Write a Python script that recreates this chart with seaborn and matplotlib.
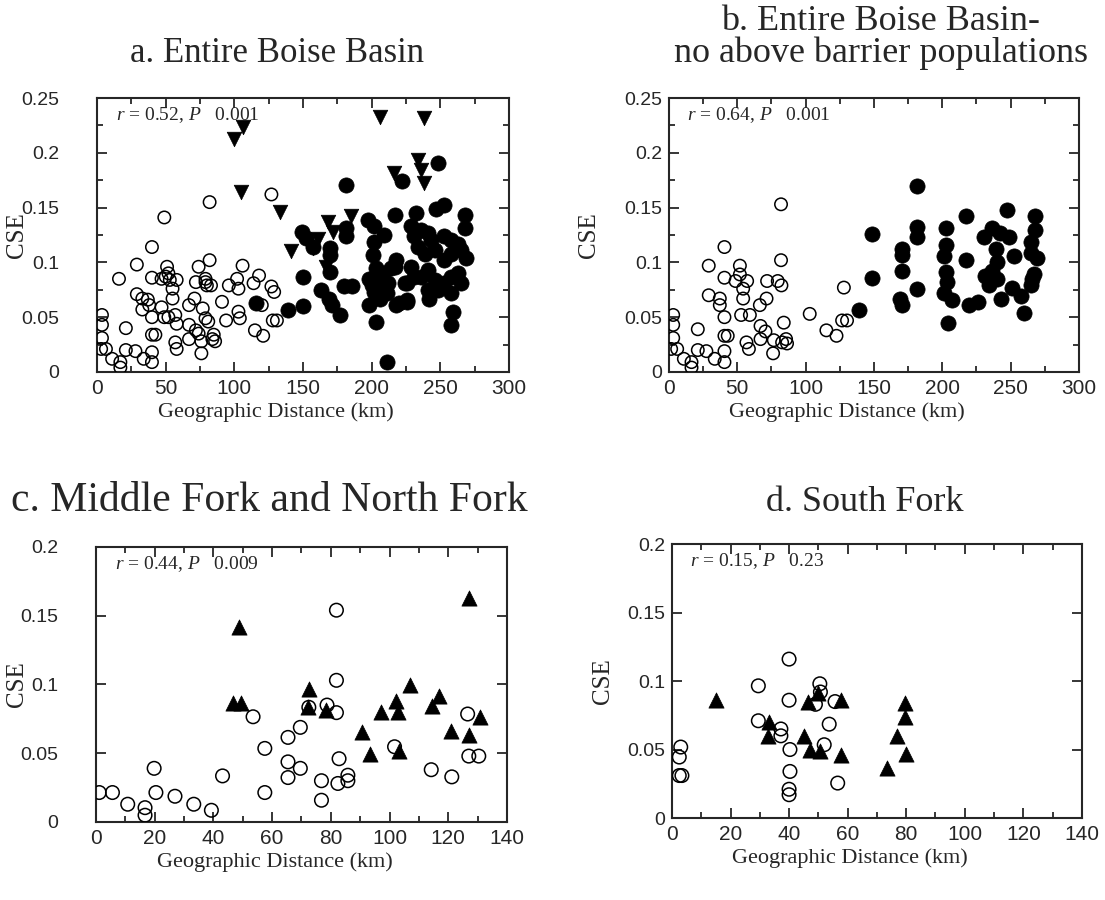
import matplotlib
matplotlib.use("Agg")
import matplotlib.pyplot as plt
import seaborn as sns
import pandas as pd
from matplotlib.ticker import MultipleLocator, FuncFormatter

# a. Entire Boise Basin
a_open_x = [
    3, 3.6, 3.6, 3.6, 6.5, 11, 17, 17, 16, 21,
    21, 28, 29, 29, 33, 33, 34, 37, 38, 40,
    40, 40, 40, 42.5, 40, 40, 49, 47, 50, 51,
    52, 53, 58, 55, 55, 47, 49, 52, 57, 58,
    57, 58, 67, 67, 67, 71, 72, 74, 72, 74,
    76, 76, 79, 80, 77, 79, 81, 79, 82, 82,
    83, 84, 85, 86, 91, 94, 96, 102, 103, 103,
    104, 106, 114, 118, 115, 121, 127, 129, 127, 128,
    131, 120]
a_open_y = [
    .021, .052, .043, .031, .021, .012, .009, .004, .085, .040,
    .020, .019, .098, .071, .067, .057, .012, .066, .061, .114,
    .086, .050, .034, .034, .018, .009, .141, .085, .087, .096,
    .090, .084, .084, .076, .067, .059, .050, .050, .052, .044,
    .027, .021, .061, .043, .030, .067, .082, .096, .038, .035,
    .017, .028, .082, .079, .058, .049, .046, .085, .155, .102,
    .079, .030, .034, .028, .064, .047, .079, .085, .076, .055,
    .049, .097, .081, .088, .038, .033, .078, .073, .162, .047,
    .047, .061]
a_fill_x = [
    116, 139, 150, 149, 152, 157, 150, 163, 169, 171,
    177, 180, 186, 181, 181, 181, 170, 170, 170, 197,
    202, 209, 202, 201, 203, 198, 206, 200, 202, 206,
    210, 198, 203, 211, 217, 217, 218, 226, 222, 232,
    248, 247, 253, 268, 268, 269, 259, 258, 242, 229,
    231, 236, 241, 243, 234, 239, 246, 253, 258, 263,
    265, 258, 253, 229, 231, 226, 236, 241, 246, 253,
    258, 263, 265, 258, 241, 248, 218, 214, 212, 224,
    220, 226, 208, 211]
a_fill_y = [
    .063, .057, .060, .128, .122, .114, .087, .075, .067, .061,
    .052, .078, .078, .131, .124, .171, .113, .107, .091, .139,
    .133, .125, .119, .107, .095, .085, .087, .079, .073, .067,
    .079, .061, .046, .009, .096, .143, .061, .064, .174, .145,
    .191, .149, .152, .143, .131, .104, .055, .043, .067, .133,
    .124, .130, .127, .120, .114, .108, .111, .124, .120, .117,
    .111, .108, .102, .096, .087, .081, .087, .093, .084, .081,
    .087, .090, .081, .072, .075, .075, .102, .095, .081, .081,
    .063, .066, .090, .072]
a_tri_x = [100, 106, 105, 133, 141, 157, 161, 168, 172, 185, 167, 206, 238, 216, 234, 236, 238]
a_tri_y = [.213, .224, .164, .146, .110, .113, .121, .137, .128, .142, .096, .233, .232, .182, .193, .184, .172]

# b. no above barrier populations
b_open_x = [
    1.6, 3.1, 3.1, 3.1, 6, 10.9, 16.5, 16.5, 21.1, 21.1,
    27.4, 29.1, 29.1, 33.5, 37.2, 37.2, 40.6, 40.6, 40.6, 40.6,
    43, 40.6, 40.6, 48.7, 51.9, 51.9, 54.3, 54.3, 57.2, 52.8,
    59.2, 56.7, 58.5, 66.5, 67, 67, 71.4, 71.8, 70.6, 76.2,
    76.7, 79.6, 82.3, 82, 82, 84, 82.8, 85.7, 86.4, 103,
    115.2, 122.6, 128, 126.7, 130.3]
b_open_y = [
    .021, .052, .043, .031, .021, .012, .009, .004, .039, .020,
    .019, .097, .070, .012, .067, .061, .114, .086, .050, .033,
    .033, .019, .009, .083, .097, .089, .076, .067, .083, .052,
    .052, .027, .021, .061, .042, .030, .067, .083, .037, .017,
    .029, .083, .079, .153, .102, .045, .027, .030, .026, .053,
    .038, .033, .077, .047, .047]
b_fill_x = [
    139, 148.7, 148.7, 170.6, 170.6, 170.6, 169.4, 170.6, 181.6, 181.6,
    181.6, 181.6, 203, 203, 201.6, 203, 203.5, 201.6, 207.2, 204,
    217.7, 217.7, 219.4, 226, 230.4, 236.5, 242.6, 247.5, 248.7, 239,
    236.5, 231.6, 234.1, 240.2, 243.1, 252.6, 250.7, 257.3, 259.7, 264.6,
    267, 268.2, 268.2, 264.6, 269.4, 264.6, 265.8, 240.2]
b_fill_y = [
    .057, .126, .086, .112, .107, .092, .067, .061, .170, .132,
    .123, .076, .131, .116, .106, .091, .082, .072, .066, .045,
    .142, .102, .061, .064, .123, .131, .127, .148, .123, .112,
    .092, .088, .079, .085, .067, .106, .077, .069, .054, .079,
    .089, .142, .130, .119, .104, .109, .085, .100]

# c. Middle Fork and North Fork
c_open_x = [
    1.1, 5.6, 10.8, 16.7, 16.7, 19.8, 20.4, 26.9, 33.3, 39.3,
    43.1, 53.5, 57.5, 57.5, 65.4, 65.4, 65.4, 69.6, 69.6, 81.9,
    81.9, 78.7, 81.9, 82.8, 76.8, 76.8, 82.4, 85.8, 85.8, 101.7,
    114.2, 121.2, 126.6, 127, 130.4, 72.5]
c_open_y = [
    .0214, .0214, .0129, .0104, .0049, .039, .0214, .0187, .0129, .0085,
    .0335, .0765, .0535, .0214, .0615, .0437, .0323, .0688, .039, .154,
    .103, .085, .0795, .046, .030, .0158, .028, .034, .030, .0547,
    .038, .0328, .0785, .0479, .0479, .0834]
c_tri_x = [48.6, 46.5, 49.5, 72.6, 72.2, 78.5, 90.7, 93.2, 97.2, 102.3,
           102.9, 103.2, 107, 114.5, 117, 121, 127, 127, 130.9]
c_tri_y = [.142, .0868, .0868, .097, .0834, .0815, .0656, .0493, .0802, .0882,
           .0802, .0515, .0996, .0846, .0916, .0663, .163, .0632, .076]

# d. South Fork
d_open_x = [3, 2.5, 2.5, 3.4, 29.5, 29.5, 37.2, 37.2, 40, 40,
            40.3, 40.3, 40, 40, 50.5, 50.7, 49, 53.7, 52, 55.7, 56.6]
d_open_y = [.0518, .0445, .031, .031, .0965, .071, .065, .060, .116, .086,
            .050, .034, .021, .017, .098, .092, .083, .0685, .0535, .085, .0255]
d_tri_x = [15.2, 33.2, 32.9, 45, 46.5, 47, 49.9, 50.7, 57.8, 57.8, 79.5, 79.5, 76.7, 80, 73.3]
d_tri_y = [.086, .070, .060, .060, .085, .050, .0916, .0486, .086, .046, .084, .0736, .060, .047, .0365]

titles = ["a. Entire Boise Basin", "b. Entire Boise Basin-\nno above barrier populations",
          "c. Middle Fork and North Fork", "d. South Fork"]
stats = ["$r$ = 0.52, $P$   0.001", "$r$ = 0.64, $P$   0.001",
         "$r$ = 0.44, $P$   0.009", "$r$ = 0.15, $P$   0.23"]

sns.set_style("ticks")
plt.rcParams['font.family'] = ['Liberation Serif', 'DejaVu Serif']
plt.rcParams['mathtext.fontset'] = 'custom'
plt.rcParams['mathtext.rm'] = 'Liberation Serif'
plt.rcParams['mathtext.it'] = 'Liberation Serif:italic'

fig = plt.figure(figsize=(11.05, 9), dpi=100)
ax_a = fig.add_axes([0.0878, 0.5867, 0.3728, 0.3044])
ax_b = fig.add_axes([0.6054, 0.5867, 0.3710, 0.3044])
ax_c = fig.add_axes([0.0869, 0.0867, 0.3719, 0.3056])
ax_d = fig.add_axes([0.6081, 0.0911, 0.3710, 0.3044])


def open_pts(ax, x, y, s=80):
    sns.scatterplot(x=x, y=y, marker='o', s=s, facecolor='none', edgecolor='black',
                    linewidth=1.1, ax=ax, zorder=3)


def fill_pts(ax, x, y, s=120):
    sns.scatterplot(x=x, y=y, marker='o', s=s, color='black', edgecolor='black',
                    linewidth=0.5, ax=ax, zorder=4)


def tri_pts(ax, x, y, marker, s=110):
    sns.scatterplot(x=x, y=y, marker=marker, s=s, color='black', edgecolor='black',
                    linewidth=0.5, ax=ax, zorder=5)


open_pts(ax_a, a_open_x, a_open_y)
fill_pts(ax_a, a_fill_x, a_fill_y)
tri_pts(ax_a, a_tri_x, a_tri_y, 'v')

open_pts(ax_b, b_open_x, b_open_y)
fill_pts(ax_b, b_fill_x, b_fill_y)

open_pts(ax_c, c_open_x, c_open_y, s=95)
tri_pts(ax_c, c_tri_x, c_tri_y, '^', s=120)

open_pts(ax_d, d_open_x, d_open_y, s=95)
tri_pts(ax_d, d_tri_x, d_tri_y, '^', s=120)

# left column has a wide gap between the tick labels and the frame
ypads = [27, 5, 27, 5]
ylab_x = [-0.167, -0.168, -0.165, -0.141]
title_size = [25, 26, 30, 26]

fmt = FuncFormatter(lambda v, p: '%g' % round(v, 3))
for i, ax in enumerate([ax_a, ax_b, ax_c, ax_d]):
    if i < 2:
        ax.set_xlim(0, 300)
        ax.set_ylim(0, 0.25)
        ax.xaxis.set_major_locator(MultipleLocator(50))
        ax.xaxis.set_minor_locator(MultipleLocator(25))
        ax.yaxis.set_minor_locator(MultipleLocator(0.025))
    else:
        ax.set_xlim(0, 140)
        ax.set_ylim(0, 0.2)
        ax.xaxis.set_major_locator(MultipleLocator(20))
        ax.xaxis.set_minor_locator(MultipleLocator(10))
    ax.yaxis.set_major_locator(MultipleLocator(0.05))
    ax.xaxis.set_major_formatter(fmt)
    ax.yaxis.set_major_formatter(fmt)
    ax.tick_params(which='both', direction='in', top=True, right=True, width=1.3)
    ax.tick_params(which='major', length=7)
    ax.tick_params(which='minor', length=4)
    ax.tick_params(axis='x', which='major', labelsize=15, pad=5)
    ax.tick_params(axis='y', which='major', labelsize=14, pad=ypads[i])
    for lab in ax.get_xticklabels() + ax.get_yticklabels():
        lab.set_family('Liberation Sans')
    for sp in ax.spines.values():
        sp.set_linewidth(1.5)
        sp.set_visible(True)
    ax.set_xlabel('Geographic Distance (km)', fontsize=16)
    ax.set_ylabel('CSE', fontsize=18)
    ax.xaxis.set_label_coords(0.435, -0.11)
    ax.yaxis.set_label_coords(ylab_x[i], 0.5)
    ax.text(0.045, 0.975, stats[i], transform=ax.transAxes, fontsize=14,
            ha='left', va='top')

fig.text(0.251, 0.931, titles[0], fontsize=title_size[0], ha='center', va='baseline')
fig.text(0.797, 0.931, titles[1], fontsize=title_size[1], ha='center', va='baseline',
         linespacing=0.95)
fig.text(0.244, 0.432, titles[2], fontsize=title_size[2], ha='center', va='baseline')
fig.text(0.783, 0.432, titles[3], fontsize=title_size[3], ha='center', va='baseline')

fig.savefig('out.png', dpi=100)
